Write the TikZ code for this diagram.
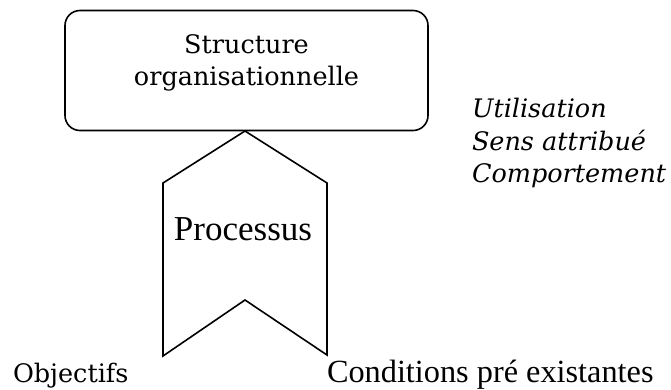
\documentclass[tikz,border=0pt]{standalone}
\usepackage{fontspec}
\setmainfont{Liberation Serif}
\newfontfamily\geo{DejaVu Serif}
\begin{document}
\begin{tikzpicture}[x=1pt,y=-1pt,
  shape line/.style={draw=black,line width=1.6pt,line join=miter},
  lbl/.style={inner sep=0pt,outer sep=0pt},
  geofont/.style={font=\geo\fontsize{25.5}{30}\selectfont},
  geoit/.style={font=\geo\itshape\fontsize{25.5}{30}\selectfont}]
\useasboundingbox (0,0) rectangle (671,389);
% box
\node[shape line,rounded corners=15pt,minimum width=363pt,minimum height=120pt,inner sep=0pt] (box) at (246.5,70.5) {};
\node[lbl,anchor=base,geofont] (st1) at (246.5,53) {Structure};
\node[lbl,anchor=base,geofont] (st2) at (246.5,85) {organisationnelle};
% process chevron
\coordinate (apex) at (245,131);
\coordinate (rs) at (327,183);
\coordinate (rb) at (327,355);
\coordinate (notch) at (245,300);
\coordinate (lb) at (163,356);
\coordinate (ls) at (163,183);
\draw[shape line] (apex) -- (rs) -- (rb) -- (notch) -- (lb) -- (ls) -- cycle;
\node[lbl,anchor=base,font=\fontsize{35}{40}\selectfont] (proc) at (243,240) {Processus};
% italic list
\node[lbl,anchor=base west,geoit] (u1) at (472,117) {Utilisation};
\node[lbl,anchor=base west,geoit] (u2) at (472,150) {Sens attribué};
\node[lbl,anchor=base west,geoit] (u3) at (472,182) {Comportement};
% bottom labels
\node[lbl,anchor=base west,geofont] (obj) at (13,382) {Objectifs};
\node[lbl,anchor=base west,font=\fontsize{32.3}{36}\selectfont] (cond) at (327,382) {Conditions pré existantes};
\end{tikzpicture}
\end{document}
